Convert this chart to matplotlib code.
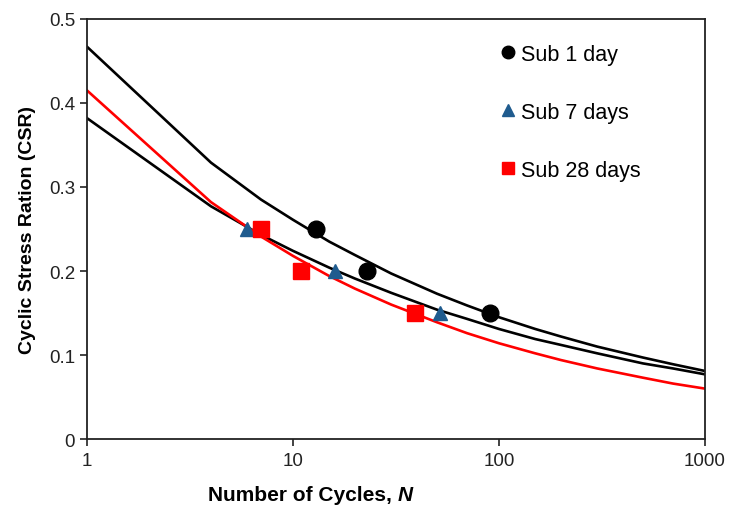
import numpy as np
import matplotlib.pyplot as plt
from matplotlib.lines import Line2D

plt.rcParams['font.family'] = ['Liberation Sans', 'DejaVu Sans']

# measured points
n_1d = [13, 23, 90]
csr_1d = [0.25, 0.20, 0.15]
n_7d = [6, 16, 52]
csr_7d = [0.25, 0.20, 0.15]
n_28d = [7, 11, 39]
csr_28d = [0.25, 0.20, 0.15]

# fitted curves
n_fit = [1, 4, 7, 10, 15, 20, 30, 50, 70, 100, 150, 200, 300, 500, 700, 1000]
fit_1d = [0.467, 0.329, 0.285, 0.261, 0.235, 0.219, 0.197, 0.173, 0.159,
          0.145, 0.131, 0.122, 0.110, 0.097, 0.089, 0.081]
fit_7d = [0.382, 0.277, 0.243, 0.224, 0.204, 0.191, 0.174, 0.154, 0.143,
          0.131, 0.119, 0.112, 0.102, 0.090, 0.084, 0.077]
fit_28d = [0.415, 0.282, 0.241, 0.218, 0.194, 0.179, 0.160, 0.139, 0.126,
           0.114, 0.102, 0.094, 0.084, 0.073, 0.066, 0.060]

blue = '#1f5b8e'
red = '#ff0000'

fig = plt.figure(figsize=(7.29, 5.06), dpi=100)
ax = fig.add_axes([0.1193, 0.1304, 0.8477, 0.8301])

ax.plot(n_fit, fit_1d, color='black', lw=1.9, zorder=2)
ax.plot(n_fit, fit_7d, color='black', lw=1.9, zorder=2)
ax.plot(n_fit, fit_28d, color=red, lw=1.9, zorder=2)

ax.plot(n_1d, csr_1d, 'o', color='black', ms=12, zorder=3)
ax.plot(n_7d, csr_7d, '^', color=blue, ms=10, zorder=3)
ax.plot(n_28d, csr_28d, 's', color=red, ms=12, zorder=3)

ax.set_xscale('log')
ax.set_xlim(1, 1000)
ax.set_ylim(0, 0.5)
ax.set_xticks([1, 10, 100, 1000])
ax.set_xticklabels(['1', '10', '100', '1000'])
ax.xaxis.set_minor_locator(plt.NullLocator())
ax.set_yticks([0, 0.1, 0.2, 0.3, 0.4, 0.5])
ax.set_yticklabels(['0', '0.1', '0.2', '0.3', '0.4', '0.5'])
ax.tick_params(axis='both', direction='out', length=5, width=1.2,
               labelsize=13.5, colors='#222222')
ax.tick_params(axis='x', pad=4)
for sp in ax.spines.values():
    sp.set_linewidth(1.3)
    sp.set_color('#222222')

# x label: bold text with bold italic N
fig.text(0.5457, 0.002, 'Number of Cycles, ', fontsize=15, fontweight='bold',
         ha='right', va='bottom')
fig.text(0.5457, 0.002, 'N', fontsize=15, fontweight='bold', style='italic',
         ha='left', va='bottom')
ax.set_ylabel('Cyclic Stress Ration (CSR)', fontsize=14, fontweight='bold', labelpad=9)

handles = [
    Line2D([], [], marker='o', color='black', ls='none', ms=9),
    Line2D([], [], marker='^', color=blue, ls='none', ms=8),
    Line2D([], [], marker='s', color=red, ls='none', ms=9),
]
ax.legend(handles, ['Sub 1 day', 'Sub 7 days', 'Sub 28 days'],
          loc='upper left', bbox_to_anchor=(0.64, 0.987), frameon=False,
          fontsize=15.5, handlelength=0.6, handletextpad=0.3, labelspacing=1.72)

fig.savefig('out.png', dpi=100)
